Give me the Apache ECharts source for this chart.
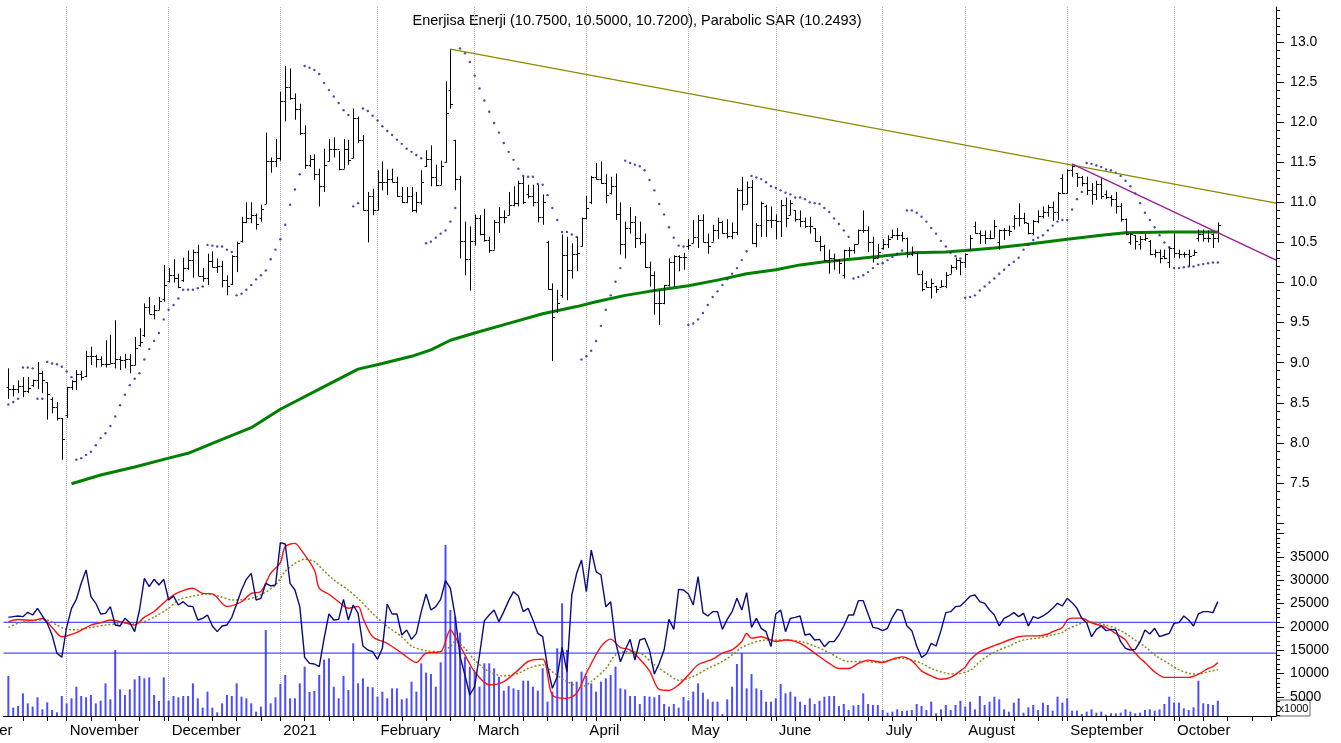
<!DOCTYPE html>
<html>
<head>
<meta charset="utf-8">
<script src="https://cdn.jsdelivr.net/npm/echarts@6/dist/echarts.min.js"></script>
<style>
  html, body { margin: 0; padding: 0; background: #fff; }
  #chart { width: 1341px; height: 743px; }
</style>
</head>
<body>
<div id="chart"></div>
<script>
// trading calendar (Borsa Istanbul), the axis runs past the last bar
const firstDay = '2020-10-13';
const lastDay = '2021-11-02';
const firstBar = '2020-10-14';
const lastMonthLine = '2021-10-31';
const holidays = ['2020-10-29', '2021-01-01', '2021-04-23', '2021-05-13', '2021-05-14', '2021-05-19',
  '2021-07-15', '2021-07-20', '2021-07-21', '2021-07-22', '2021-07-23', '2021-08-30', '2021-10-29'];
const monthLabels = ['2021', 'February', 'March', 'April', 'May', 'June', 'July',
  'August', 'September', 'October', 'November', 'December'];

const titleText = 'Enerjisa Enerji (10.7500, 10.5000, 10.7200), Parabolic SAR (10.2493)';

// daily bars, one value per trading day from firstBar
const opens = [
  8.70,8.67,8.67,8.71,8.65,8.72,8.78,8.87,8.76,8.55, 8.45,8.31,8.35,8.70,8.77,8.86,8.84,9.08,9.08,9.05,
  8.99,8.99,9.00,9.05,9.04,9.05,8.97,9.22,9.34,9.70, 9.61,9.66,9.80,10.02,10.09,10.06,10.03,10.18,10.28,10.38,
  10.08,10.06,10.27,10.19,10.21,10.03,9.98,10.33,10.52,10.76, 10.80,10.84,10.80,10.98,11.51,11.51,11.55,12.27,12.44,12.30,
  12.16,11.87,11.47,11.54,11.35,11.20,11.52,11.66,11.66,11.42, 11.66,11.55,12.05,11.78,10.90,11.08,10.90,11.25,11.25,11.29,
  11.25,11.08,11.01,11.08,10.91,11.01,11.45,11.54,11.32,11.22, 11.50,12.40,11.78,11.29,10.52,10.29,10.52,10.81,10.60,10.53,
  10.41,10.76,10.82,10.84,10.97,10.99,11.24,11.10,11.08,11.01, 10.82,10.50,9.92,9.65,9.85,10.34,10.16,10.36,10.45,10.80,
  11.00,11.32,11.29,11.24,11.12,11.20,10.86,10.48,10.68,10.75, 10.55,10.50,10.19,10.09,9.75,9.75,9.97,10.25,10.33,10.32,
  10.45,10.49,10.57,10.78,10.51,10.51,10.66,10.76,10.62,10.58, 10.63,11.15,10.98,11.19,10.49,10.72,10.95,10.78,10.78,10.77,
  10.97,10.84,10.90,10.79,10.77,10.71,10.68,10.52,10.45,10.28, 10.30,10.28,10.10,10.40,10.41,10.48,10.65,10.65,10.51,10.31,
  10.43,10.48,10.57,10.59,10.59,10.56,10.36,10.37,10.11,10.00, 9.95,9.96,9.95,9.96,10.11,10.19,10.28,10.25,10.41,10.70,
  10.62,10.59,10.56,10.56,10.50,10.66,10.66,10.70,10.80,10.80, 10.74,10.62,10.77,10.83,10.88,10.94,10.88,11.30,11.12,11.40,
  11.36,11.32,11.24,11.16,11.11,11.23,11.10,11.07,11.04,10.95, 10.79,10.50,10.59,10.48,10.54,10.52,10.36,10.38,10.33,10.25,
  10.43,10.37,10.36,10.36,10.34,10.55,10.61,10.56,10.60,10.55
];
const highs = [
  8.93,8.72,8.78,8.82,8.82,8.79,9.01,8.90,8.76,8.57, 8.51,8.31,8.70,8.78,8.91,8.90,9.15,9.20,9.10,9.08,
  9.28,9.35,9.53,9.08,9.11,9.11,9.32,9.43,9.74,9.82, 9.72,9.82,10.22,10.18,10.29,10.11,10.31,10.40,10.41,10.47,
  10.18,10.36,10.39,10.30,10.27,10.09,10.34,10.51,10.82,11.00, 11.00,10.86,10.97,11.87,11.56,11.79,12.38,12.70,12.67,12.36,
  12.23,11.96,11.59,11.60,11.42,11.67,11.79,11.81,11.64,11.79, 11.78,12.17,12.07,11.84,11.13,11.17,11.40,11.51,11.41,11.42,
  11.32,11.19,11.19,11.19,11.13,11.40,11.65,11.71,11.47,11.52, 12.51,12.91,11.78,11.33,10.76,10.70,10.85,10.84,10.92,10.57,
  10.78,10.94,10.90,11.13,11.20,11.27,11.32,11.22,11.22,11.22, 11.10,10.52,9.99,9.91,10.60,10.57,10.49,10.57,10.81,11.08,
  11.33,11.49,11.51,11.35,11.32,11.36,11.00,10.76,10.94,10.83, 10.76,10.61,10.26,10.14,9.91,9.97,10.30,10.34,10.34,10.37,
  10.54,10.78,10.84,10.85,10.61,10.72,10.81,10.77,10.79,10.75, 11.18,11.32,11.26,11.28,10.74,11.01,10.97,10.95,10.85,11.03,
  11.06,11.03,10.90,10.90,10.81,10.82,10.68,10.58,10.47,10.41, 10.36,10.29,10.41,10.44,10.48,10.66,10.90,10.70,10.57,10.48,
  10.54,10.59,10.66,10.68,10.63,10.56,10.45,10.37,10.15,10.02, 10.05,9.96,10.03,10.13,10.22,10.31,10.28,10.36,10.59,10.76,
  10.65,10.65,10.65,10.78,10.66,10.68,10.71,10.84,10.99,10.87, 10.74,10.78,10.90,10.95,10.97,11.01,11.13,11.35,11.41,11.47,
  11.36,11.33,11.32,11.24,11.27,11.30,11.15,11.09,11.13,10.99, 10.80,10.61,10.59,10.58,10.61,10.53,10.41,10.41,10.41,10.44,
  10.61,10.41,10.38,10.41,10.41,10.66,10.66,10.65,10.61,10.75
];
const lows = [
  8.55,8.58,8.62,8.57,8.62,8.70,8.67,8.62,8.29,8.37, 8.28,7.79,8.31,8.66,8.66,8.78,8.82,8.97,8.94,8.95,
  8.94,8.99,8.93,8.91,8.93,8.87,8.97,9.20,9.32,9.61, 9.54,9.66,9.76,10.00,10.00,9.93,10.01,10.16,10.06,10.08,
  10.01,9.97,10.19,10.12,9.94,9.84,9.97,10.13,10.50,10.74, 10.74,10.66,10.76,10.98,11.37,11.44,11.52,12.01,12.28,12.03,
  11.84,11.42,11.44,11.28,10.95,11.13,11.51,11.56,11.40,11.42, 11.47,11.55,11.74,10.90,10.50,10.84,10.90,11.15,11.09,11.25,
  11.07,10.99,10.99,10.88,10.87,10.97,11.44,11.20,11.20,11.22, 11.50,12.17,11.15,10.30,10.09,9.90,10.46,10.59,10.51,10.37,
  10.41,10.62,10.74,10.84,10.95,10.95,10.98,11.05,10.95,10.75, 10.72,9.91,9.02,9.62,9.81,9.78,10.05,10.14,10.45,10.79,
  10.98,11.28,11.23,10.99,11.10,10.78,10.35,10.30,10.61,10.43, 10.47,10.18,9.95,9.60,9.47,9.73,9.95,9.95,10.14,10.16,
  10.41,10.49,10.43,10.50,10.36,10.51,10.54,10.61,10.55,10.54, 10.59,10.90,10.97,10.48,10.44,10.57,10.57,10.68,10.54,10.57,
  10.69,10.84,10.76,10.69,10.68,10.61,10.51,10.39,10.27,10.11, 10.16,10.11,10.05,10.31,10.36,10.48,10.62,10.38,10.25,10.31,
  10.41,10.43,10.55,10.53,10.51,10.31,10.33,10.11,9.89,9.94, 9.80,9.87,9.94,9.93,10.11,10.16,10.09,10.18,10.41,10.61,
  10.48,10.48,10.54,10.56,10.41,10.53,10.58,10.66,10.70,10.73, 10.60,10.59,10.74,10.80,10.82,10.77,10.78,11.11,11.11,11.32,
  11.19,11.20,11.09,10.97,11.03,11.04,11.04,10.95,10.86,10.76, 10.59,10.47,10.41,10.41,10.52,10.34,10.31,10.24,10.29,10.18,
  10.31,10.30,10.31,10.20,10.34,10.51,10.51,10.50,10.43,10.50
];
const closes = [
  8.67,8.67,8.71,8.65,8.69,8.78,8.87,8.78,8.61,8.45, 8.31,8.05,8.70,8.77,8.86,8.82,9.08,9.08,9.05,8.99,
  8.99,9.00,9.05,9.04,9.05,8.97,9.18,9.26,9.70,9.61, 9.66,9.77,9.97,10.09,10.06,9.94,10.18,10.28,10.38,10.08,
  10.06,10.27,10.19,10.21,10.03,9.96,10.33,10.49,10.76,10.80, 10.84,10.73,10.92,11.51,11.51,11.55,12.27,12.44,12.30,12.16,
  11.87,11.47,11.54,11.35,11.20,11.47,11.66,11.66,11.42,11.66, 11.53,12.05,11.78,10.90,11.08,10.90,11.25,11.25,11.29,11.25,
  11.08,11.01,11.08,10.91,11.01,11.26,11.54,11.32,11.22,11.45, 12.11,12.23,11.29,10.52,10.29,10.52,10.81,10.60,10.53,10.41,
  10.76,10.82,10.82,10.97,10.99,11.24,11.01,11.08,11.01,10.82, 11.01,9.92,9.57,9.74,10.34,10.16,10.36,10.37,10.80,10.93,
  11.32,11.29,11.24,11.09,11.20,10.86,10.48,10.68,10.75,10.55, 10.50,10.19,10.09,9.75,9.75,9.97,10.25,10.33,10.32,10.32,
  10.47,10.57,10.78,10.51,10.46,10.66,10.76,10.62,10.58,10.63, 11.15,10.98,11.19,10.49,10.72,10.99,10.78,10.78,10.77,10.97,
  10.81,10.99,10.79,10.77,10.71,10.71,10.52,10.45,10.28,10.30, 10.28,10.24,10.40,10.41,10.48,10.65,10.65,10.51,10.31,10.38,
  10.48,10.54,10.59,10.59,10.56,10.36,10.38,10.11,9.92,9.95, 10.00,9.92,9.96,10.09,10.19,10.28,10.25,10.36,10.56,10.62,
  10.59,10.56,10.56,10.70,10.66,10.66,10.64,10.80,10.80,10.76, 10.62,10.77,10.83,10.88,10.94,10.88,11.12,11.12,11.40,11.45,
  11.32,11.24,11.16,11.11,11.23,11.08,11.07,11.04,10.95,10.79, 10.61,10.61,10.52,10.54,10.56,10.36,10.38,10.31,10.30,10.43,
  10.37,10.36,10.36,10.33,10.38,10.61,10.56,10.56,10.56,10.72
];
const sar = [
  8.48,8.51,8.55,8.94,8.94,8.93,8.55,8.55,9.01,8.99, 8.98,8.95,8.89,8.82,7.79,7.81,7.85,7.89,7.97,8.06,
  8.12,8.21,8.33,8.47,8.60,8.72,8.80,8.87,9.04,9.17, 9.27,9.37,9.54,9.66,9.72,9.80,9.91,9.91,9.91,9.93,
  9.95,10.47,10.46,10.45,10.45,10.41,10.38,9.84,9.86,9.91, 9.97,10.04,10.09,10.15,10.29,10.41,10.54,10.72,10.97,11.16,
  11.35,12.70,12.68,12.65,12.60,12.49,12.40,12.32,12.24,12.15, 12.09,10.95,10.99,12.17,12.14,12.08,12.02,11.95,11.89,11.84,
  11.78,11.73,11.67,11.63,11.59,11.55,10.49,10.51,10.56,10.61, 10.65,10.76,10.93,12.92,12.86,12.75,12.58,12.42,12.27,12.13,
  11.99,11.87,11.74,11.63,11.53,11.42,11.33,11.32,11.32,11.23, 11.22,11.09,10.93,10.78,10.63,10.63,10.60,10.57,9.04,9.08,
  9.15,9.27,9.46,9.66,9.84,10.01,10.18,11.52,11.49,11.47, 11.45,11.40,11.28,11.15,10.98,10.85,10.69,10.56,10.46,10.45,
  9.47,9.49,9.54,9.62,9.72,9.82,9.89,9.97,10.04,10.11, 10.18,10.28,10.39,11.33,11.31,11.29,11.25,11.20,11.18,11.15,
  11.12,11.10,11.06,11.06,11.04,11.00,10.99,10.98,10.93,10.88, 10.80,10.73,10.65,10.57,10.05,10.07,10.09,10.13,10.18,10.23,
  10.24,10.28,10.32,10.36,10.40,10.90,10.90,10.87,10.82,10.76, 10.68,10.61,10.52,10.45,10.37,10.33,10.30,9.81,9.82,9.84,
  9.90,9.95,10.00,10.05,10.11,10.16,10.22,10.26,10.31,10.41, 10.47,10.53,10.56,10.59,10.65,10.71,10.76,10.78,10.78,10.91,
  11.04,11.13,11.49,11.48,11.46,11.44,11.41,11.40,11.37,11.33, 11.27,11.20,11.11,10.99,10.87,10.78,10.69,10.59,10.50,10.44,
  10.18,10.18,10.19,10.20,10.20,10.22,10.23,10.24,10.25,10.2493
];
// long moving average, read at [bar, value]
const maPoints = [
  [13,7.49],[19,7.60],[26,7.70],[33,7.81],[37,7.87],[43,8.02],[50,8.19],[56,8.42],[64,8.67],[72,8.92],
  [77,8.99],[83,9.08],[87,9.16],[91,9.28],[96,9.37],[103,9.49],[110,9.61],[117,9.70],[121,9.76],[127,9.84],
  [132,9.89],[140,9.96],[146,10.03],[152,10.11],[158,10.16],[163,10.22],[168,10.26],[175,10.30],[180,10.33],[186,10.37],
  [193,10.38],[197,10.40],[203,10.43],[209,10.47],[218,10.54],[225,10.59],[230,10.62],[239,10.63],[249,10.63]
];
const trendOlive = [[91, 12.91], [261, 10.99]];
const trendPurple = [[219, 11.48], [261, 10.28]];

// lower panel (x1000)
const oscBlue = [
  22064,22207,22350,22207,23136,22564,23993,22350,20779,18279, 14350,13493,19922,23993,25922,29350,32207,26493,25064,22779,
  22921,24350,20422,20207,21850,20922,18993,23636,30422,28636, 30207,28993,30207,25779,26636,24707,25422,24493,24350,21493,
  21850,22564,20207,18993,20207,20422,22064,24922,27922,30207, 31493,25779,26136,29350,28779,28993,38064,37779,29350,27922,
  24350,13493,12207,12064,11493,17500,22779,21493,21636,25922, 21493,24707,22922,15922,15064,14707,13064,15422,24922,22779,
  22779,18279,19350,17350,18636,23279,27064,23636,24350,25922, 29922,28279,22207,13636,9707,5422,7207,13993,21350,22564,
  23636,21136,23279,25636,27564,26636,23279,23993,21493,18636, 17921,11493,6850,9350,15636,10422,26850,31493,34350,27564,
  36493,31850,31136,24350,25422,16850,12564,15064,17350,12922, 17207,17564,15000,9922,12207,15064,21636,19493,28065,27922,
  27064,24707,30779,23065,22350,23279,23279,19493,21636,23279, 26136,23636,27350,19922,21850,19707,18993,15779,22779,23636,
  18993,21850,22064,22350,18279,18493,17207,17350,15779,16850, 16850,18279,20207,22564,22564,25636,25636,22779,19922,19707,
  19207,19707,22064,23779,23493,20207,19207,15922,13493,14207, 16493,15922,19207,23065,23279,24350,24493,25500,26600,26850,
  25422,25065,23636,22564,20207,21850,22350,23065,22207,22922, 20207,22207,21850,22350,23065,23993,25065,24493,26136,25207,
  23993,21850,20922,17921,19493,20207,19207,19493,19350,16850, 15422,15065,15207,16850,19350,18493,19707,17921,18279,18636,
  20779,20922,22350,21493,20207,22779,23279,23279,23065,25422
];
const volume = [
  9493,2707,3064,5779,3636,2921,4922,2350,3850,2207, 1707,5207,3636,4707,7207,5207,4922,5422,3636,4207,
  7922,4493,15064,6636,5422,6636,8779,9493,8993,9207, 5422,4136,9207,4207,5207,4922,5207,5207,7922,4707,
  2707,6136,2707,1707,3636,5422,5207,7922,5064,4707, 3636,1850,2921,19350,3636,4922,7779,9707,4707,4707,
  7922,11493,6064,6279,9707,13000,13279,7207,4707,9493, 6493,16493,7922,8993,7207,7064,5064,6136,4707,6850,
  6850,4493,4707,8279,6136,12207,10207,9922,7207,12422, 37565,23636,22207,18779,13636,11493,10422,7207,12207,12207,
  11136,9350,6350,7350,6850,6493,8493,8493,7207,6350, 11136,3993,6136,15422,25065,15065,8279,8279,10422,9493,
  7922,6136,8279,8993,9707,11493,6850,6636,5207,5207, 3493,5207,5064,4922,5422,3493,2921,3493,2707,4993,
  4207,6136,7922,5922,4493,3993,3993,1350,4493,7207, 12064,14350,6850,9922,6850,6493,3993,3993,4707,7779,
  5779,6136,5064,3993,3279,4707,3493,4207,5064,5207, 5207,3064,3493,2207,3207,3279,5779,3493,3279,3279,
  2207,1636,1850,2350,1993,2064,2207,3493,3064,2207, 3993,1493,2350,3279,2207,3279,4207,2921,3993,2350,
  5207,3279,3993,5064,4493,2350,1850,3779,4707,1636, 2779,3279,2207,3779,3279,2064,5064,3779,4707,2064,
  2064,1350,1850,2350,1636,1850,1207,1493,1493,1636, 2350,1850,1493,1636,2207,2350,2064,2350,3493,5064,
  3779,3779,2564,2207,2779,8493,3636,3493,3279,4207
];
const oscRed = [
  [0,21100],[2,21600],[5,21400],[7,21800],[9,19900],[11,17900],[14,18800],[17,20400],[19,20900],[21,21500],
  [24,20900],[26,20400],[28,22100],[30,23300],[33,26100],[35,27400],[38,28300],[40,27200],[42,27100],[45,24400],
  [48,25400],[50,27200],[52,27600],[54,31500],[56,33800],[57,37200],[59,37900],[60,36900],[63,32200],[64,28300],
  [66,27000],[68,25400],[70,24000],[72,24400],[73,21900],[75,17900],[78,16500],[81,14400],[84,12400],[86,14400],
  [89,14700],[91,19400],[92,17900],[94,14000],[96,10400],[99,7600],[102,8300],[105,10800],[107,12600],[110,13100],
  [112,5400],[115,4700],[117,5800],[119,10100],[122,15800],[124,17400],[126,15600],[128,15100],[130,13100],[132,10600],
  [134,6600],[136,6400],[138,7600],[140,9700],[142,11900],[145,13100],[147,14400],[149,15100],[151,16900],[152,18600],
  [153,17600],[155,17900],[157,17200],[158,16900],[160,17200],[162,16900],[164,15900],[166,14400],[169,12200],[171,11100],
  [173,11100],[175,12200],[177,12900],[180,12400],[182,13100],[184,13600],[186,12800],[188,10600],[190,9500],[192,8800],
  [194,9200],[196,10600],[197,11400],[198,12900],[200,14700],[202,15600],[204,16400],[206,17200],[208,17900],[210,18100],
  [212,18100],[214,18500],[215,19000],[217,19900],[218,21500],[219,21900],[221,21900],[223,20900],[226,19900],[228,18600],
  [230,17200],[231,15600],[233,13300],[234,12400],[236,10400],[238,9200],[240,9200],[243,9200],[245,9900],[247,11100],
  [248,11500],[249,12400]
];
const oscOlive = [
  [0,19900],[2,20800],[5,21400],[8,21500],[10,20400],[12,19500],[14,19400],[17,19900],[20,20400],[24,20800],
  [27,20900],[30,22100],[33,24000],[35,25800],[38,26600],[41,27100],[44,26400],[46,25800],[49,25900],[52,26900],
  [55,29000],[57,31900],[59,33600],[61,34500],[63,34000],[65,32000],[67,30100],[70,27900],[72,26100],[75,22900],
  [78,20100],[81,17900],[83,15900],[86,14900],[89,14700],[91,15800],[92,16900],[94,15400],[96,12900],[99,10400],
  [102,9500],[105,10100],[107,11100],[110,11900],[112,10400],[115,8300],[118,7200],[120,8300],[123,11100],[125,14000],
  [127,14700],[130,14400],[133,11900],[136,9700],[138,8600],[141,9400],[144,11100],[147,12600],[149,14000],[151,15600],
  [153,16500],[155,17100],[158,17200],[160,17200],[163,16900],[166,15900],[169,14500],[171,13300],[173,12600],[176,12600],
  [179,12400],[181,12800],[184,13300],[186,12900],[188,12200],[190,11100],[193,10100],[195,9900],[198,10700],[200,12600],
  [202,14000],[204,15100],[206,15900],[208,16900],[210,17400],[212,17600],[215,18300],[217,18800],[218,19500],[220,20400],
  [222,21100],[224,20900],[226,20400],[228,19700],[230,18600],[232,17200],[234,15800],[236,14000],[239,12100],[241,10800],
  [243,10100],[245,9900],[247,10400],[249,10900]
];
const levelLines = [21000, 14400];

const priceLabels = [7.5, 8.0, 8.5, 9.0, 9.5, 10.0, 10.5, 11.0, 11.5, 12.0, 12.5, 13.0];
const volLabels = [5000, 10000, 15000, 20000, 25000, 30000, 35000];

// ---- calendar ----
const dates = [];
for (let t = Date.parse(firstDay); t <= Date.parse(lastDay); t += 86400000) {
  const d = new Date(t);
  const s = d.toISOString().slice(0, 10);
  const dow = d.getUTCDay();
  if (dow === 0 || dow === 6 || holidays.includes(s)) continue;
  dates.push(s);
}
const offset = dates.indexOf(firstBar);
const monthStart = new Set();
const tickAt = new Set();
dates.forEach((s, k) => {
  if (k === 0) return;
  const prev = dates[k - 1];
  if (s.slice(5, 7) !== prev.slice(5, 7)) {
    tickAt.add(k);
    if (s <= lastMonthLine) monthStart.add(k);
  }
  const gap = (Date.parse(s) - Date.parse(prev)) / 86400000;
  if (new Date(s).getUTCDay() <= new Date(prev).getUTCDay() || gap >= 7) tickAt.add(k);
});

const at = pts => pts.map(([i, v]) => [i + offset, v]);
const seq = arr => arr.map((v, i) => [i + offset, v]);
const ohlc = closes.map((c, i) => [i + offset, opens[i], highs[i], lows[i], c]);

// axis geometry
const plotLeft = 3.5, plotRight = 64.9;
const pMin = 6.9386, pMax = 13.4365;
const vMin = 921, vMax = 41204;
const priceMajor = [], priceMinor = [];
for (let k = 70; k <= 134; k++) (k % 5 === 0 ? priceMajor : priceMinor).push(k / 10);
const volMajor = [], volMinor = [];
for (let k = 1; k <= 41; k++) (k % 5 === 0 ? volMajor : volMinor).push(k * 1000);

const font = 'Liberation Sans, Arial, sans-serif';
const dotted = { type: 'dotted', color: '#b8b8b8', width: 1 };

function renderOhlc(params, api) {
  const x = api.value(0);
  const o = api.coord([x, api.value(1)]);
  const h = api.coord([x, api.value(2)]);
  const l = api.coord([x, api.value(3)]);
  const c = api.coord([x, api.value(4)]);
  const px = Math.round(h[0]) + 0.5;
  const style = { stroke: '#000', lineWidth: 1 };
  return {
    type: 'group',
    children: [
      { type: 'line', shape: { x1: px, y1: h[1], x2: px, y2: l[1] }, style },
      { type: 'line', shape: { x1: px - 2, y1: Math.round(o[1]) + 0.5, x2: px, y2: Math.round(o[1]) + 0.5 }, style },
      { type: 'line', shape: { x1: px, y1: Math.round(c[1]) + 0.5, x2: px + 2.5, y2: Math.round(c[1]) + 0.5 }, style }
    ]
  };
}

const chart = echarts.init(document.getElementById('chart'), null, { renderer: 'canvas' });

const catAxis = (grid, visible) => ({
  type: 'category', gridIndex: grid, data: dates, boundaryGap: false,
  axisLine: { show: visible, onZero: false, lineStyle: { color: '#000', width: 1 } },
  axisTick: { show: visible, interval: k => tickAt.has(k), length: 5, lineStyle: { color: '#000' } },
  axisLabel: {
    show: visible, interval: k => monthStart.has(k), align: 'left', margin: 7,
    padding: [0, 0, 0, 3], color: '#000', fontSize: 15, fontFamily: font,
    formatter: v => monthLabels[+v.slice(5, 7) - 1]
  },
  splitLine: { show: true, interval: k => monthStart.has(k), lineStyle: dotted }
});

const valAxis = (grid, min, max, ticks, labels, len, fmt) => ({
  type: 'value', gridIndex: grid, position: 'right', min, max, scale: true,
  axisLine: { show: !!labels, lineStyle: { color: '#000' } },
  axisTick: { show: true, customValues: ticks, length: len, lineStyle: { color: '#000' } },
  axisLabel: labels
    ? { customValues: labels, formatter: fmt, color: '#000', fontSize: 14, fontFamily: font, margin: 14 }
    : { show: false },
  splitLine: { show: false }
});

// each reference level is drawn as a flat line across the whole lower axis
const levelSeries = levelLines.map(v => ({
  type: 'line', xAxisIndex: 1, yAxisIndex: 2, data: [[0, v], [dates.length - 1, v]],
  showSymbol: false, lineStyle: { color: '#2424ff', width: 1 }, z: 1, silent: true
}));

chart.setOption({
  animation: false,
  backgroundColor: '#fff',
  grid: [
    { left: plotLeft, right: plotRight, top: 7, height: 521 },
    { left: plotLeft, right: plotRight, top: 528, height: 188 }
  ],
  xAxis: [catAxis(0, false), catAxis(1, true)],
  yAxis: [
    valAxis(0, pMin, pMax, priceMajor, priceLabels, 8, v => v.toFixed(1)),
    valAxis(0, pMin, pMax, priceMinor, null, 4),
    valAxis(1, vMin, vMax, volMajor, volLabels, 8, v => String(v)),
    valAxis(1, vMin, vMax, volMinor, null, 4)
  ],
  series: [
    {
      type: 'line', xAxisIndex: 0, yAxisIndex: 0, data: at(maPoints), showSymbol: false,
      lineStyle: { color: '#008000', width: 3 }, z: 2, silent: true
    },
    {
      type: 'custom', xAxisIndex: 0, yAxisIndex: 0, renderItem: renderOhlc,
      encode: { x: 0, y: [1, 2, 3, 4] }, data: ohlc, clip: true, z: 3, silent: true
    },
    {
      type: 'scatter', xAxisIndex: 0, yAxisIndex: 0, data: seq(sar), symbol: 'circle', symbolSize: 2.4,
      itemStyle: { color: '#1e1e96' }, z: 4, silent: true
    },
    {
      type: 'line', xAxisIndex: 0, yAxisIndex: 0, data: at(trendOlive), showSymbol: false,
      lineStyle: { color: '#8a8a00', width: 1.2 }, z: 5, silent: true
    },
    {
      type: 'line', xAxisIndex: 0, yAxisIndex: 0, data: at(trendPurple), showSymbol: false,
      lineStyle: { color: '#9a1a9a', width: 1.2 }, z: 5, silent: true
    },
    {
      type: 'bar', xAxisIndex: 1, yAxisIndex: 2, data: seq(volume), barWidth: 2,
      itemStyle: { color: '#4d4dff' }, z: 1, silent: true
    },
    ...levelSeries,
    {
      type: 'line', xAxisIndex: 1, yAxisIndex: 2, data: at(oscOlive), showSymbol: false, smooth: 0.3,
      lineStyle: { color: '#8a8a1a', width: 1.5, type: [2, 2] }, z: 2, silent: true
    },
    {
      type: 'line', xAxisIndex: 1, yAxisIndex: 2, data: at(oscRed), showSymbol: false, smooth: 0.3,
      lineStyle: { color: '#ff1010', width: 1.4 }, z: 3, silent: true
    },
    {
      type: 'line', xAxisIndex: 1, yAxisIndex: 2, data: seq(oscBlue), showSymbol: false,
      lineStyle: { color: '#0a0a80', width: 1.4 }, z: 4, silent: true
    }
  ],
  graphic: [
    {
      type: 'text', x: 637, y: 21,
      style: { text: titleText, font: '14.5px ' + font, fill: '#000', textAlign: 'center', textVerticalAlign: 'middle' }
    },
    {
      // month name of the first dotted line, which lies left of the picture
      type: 'text', x: 12.5, y: 731,
      style: { text: 'October', font: '15px ' + font, fill: '#000', textAlign: 'right', textVerticalAlign: 'middle' }
    },
    {
      type: 'group', x: 1277, y: 700,
      children: [
        { type: 'rect', shape: { x: 0, y: 0, width: 33, height: 16 }, style: { fill: '#fff', stroke: '#666', lineWidth: 1 } },
        { type: 'text', style: { text: 'x1000', x: 16.5, y: 8.5, font: '11px ' + font, fill: '#000', textAlign: 'center', textVerticalAlign: 'middle' } }
      ]
    }
  ]
});
</script>
</body>
</html>
